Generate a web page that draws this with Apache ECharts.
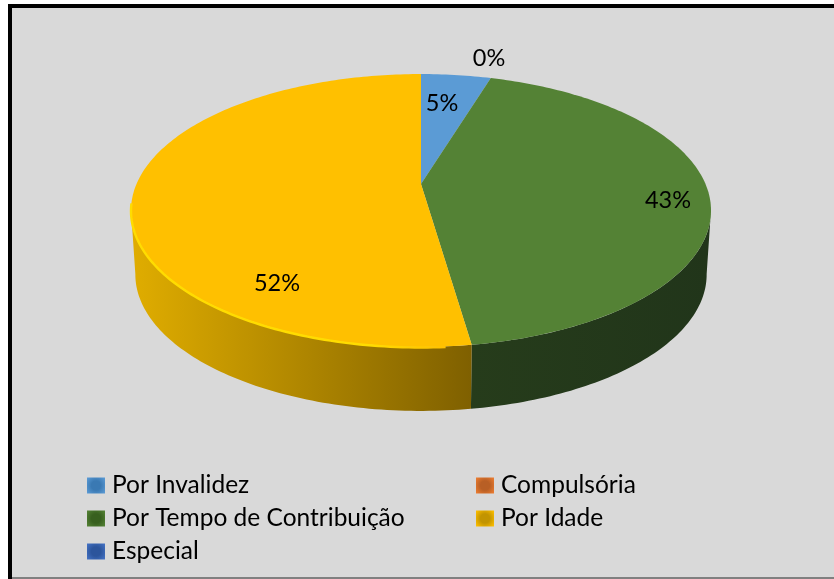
<!DOCTYPE html>
<html><head><meta charset="utf-8">
<style>html,body{margin:0;padding:0;background:#fff}#c{width:834px;height:579px}</style>
<script src="https://cdn.jsdelivr.net/npm/echarts@6/dist/echarts.min.js"></script>
</head><body><div id="c"></div>
<script>
const categories = ['Por Invalidez','Compulsória','Por Tempo de Contribuição','Por Idade','Especial'];
const values = [4.7, 0, 43, 52.3, 0];
const labels = ['5%','0%','43%','52%',null];
const colors = ['#5B9BD5','#ED7D31','#548235','#FFC000','#4472C4'];
const leftLegend = ['Por Invalidez','Por Tempo de Contribuição','Especial'];
const rightLegend = ['Compulsória','Por Idade'];
const labelPos = [[442,103],[489,58],[668,200],[277,283],null];

const sideStops = [null,null,['#263c1b','#21351a'],['#e0ad00','#7f6000'],null];
const swatchCore = ['#3a79b3','#b85f25','#38601f','#c29400','#2c559c'];

const total = values.reduce((a,b)=>a+b,0);
const APEX=[421,184], K=0.194, A=131.3, B=284.5, DEPTH=64, SHRINK=0.985;
function proj(deg){const t=deg*Math.PI/180,X=Math.sin(t),Y=Math.cos(t),w=1+K*Y;
  return [APEX[0]+B*X/w, APEX[1]-A*Y/w];}
function low(p){return [APEX[0]+(p[0]-APEX[0])*SHRINK, p[1]+DEPTH];}
function arc(a,b){const n=Math.max(2,Math.ceil(Math.abs(b-a)));const r=[];
  for(let i=0;i<=n;i++)r.push(proj(a+(b-a)*i/n));return r;}

let acc=0;
const spans=values.map(v=>{const s=acc/total*360;acc+=v;return [s,acc/total*360];});

function renderer(idx){
  return function(params,api){
    const v=api.value(0), kids=[];
    const [a,b]=spans[idx];
    const sa=Math.max(a,101), sb=Math.min(b,259);
    if(v>0 && sb>sa && sideStops[idx]){
      const top=arc(sa,sb), bot=top.map(low).reverse();
      const st=sideStops[idx];
      kids.push({type:'polygon',shape:{points:top.concat(bot)},
        style:{fill:new echarts.graphic.LinearGradient(0,0,1,0,
          [{offset:0,color:st[0]},{offset:1,color:st[1]}])}});
    }
    if(v>0){
      kids.push({type:'polygon',shape:{points:[APEX].concat(arc(a,b))},style:{fill:colors[idx]}});
    }
    if(idx===3){
      kids.push({type:'polyline',shape:{points:arc(Math.max(a,176),Math.min(b,262)).map(p=>[p[0],p[1]+0.6])},
        style:{fill:'none',lineWidth:2.4,stroke:new echarts.graphic.LinearGradient(0,0,1,0,[
          {offset:0,color:'#FFDC00'},{offset:0.75,color:'#FFDC00'},{offset:1,color:colors[3]}])}});
    }
    if(labels[idx]){
      kids.push({type:'text',x:labelPos[idx][0],y:labelPos[idx][1],z2:10,
        style:{text:labels[idx],fill:'#000',font:'23.5px Lato',align:'center',verticalAlign:'middle'}});
    }
    return {type:'group',children:kids};
  };
}
const swatch=i=>({icon:'rect',itemStyle:{color:new echarts.graphic.RadialGradient(0.5,0.5,0.72,[
  {offset:0,color:swatchCore[i]},{offset:0.4,color:swatchCore[i]},{offset:1,color:colors[i]}])}});
const legendData=list=>list.map(n=>Object.assign({name:n},swatch(categories.indexOf(n))));
const legendBase={orient:'vertical',itemWidth:18,itemHeight:16,itemGap:8,padding:0,selectedMode:false,
  textStyle:{fontFamily:'Lato',fontSize:24.5,color:'#000',padding:[0,0,0,2]}};

const chart=echarts.init(document.getElementById('c'),null,{renderer:'canvas'});
chart.setOption({
  animation:false,
  backgroundColor:'#fff',
  graphic:[
    {type:'rect',z:-10,shape:{x:8,y:4,width:826,height:575},style:{fill:'#000'}},
    {type:'rect',z:-9,shape:{x:12,y:8,width:822,height:569},style:{fill:'#D9D9D9'}},
    {type:'rect',z:-9,shape:{x:12,y:577,width:822,height:2},style:{fill:'#808080'}}
  ],
  legend:[
    Object.assign({},legendBase,{left:87,top:473,data:legendData(leftLegend)}),
    Object.assign({},legendBase,{left:476,top:473,data:legendData(rightLegend)})
  ],
  series:categories.map((name,i)=>({
    type:'custom',name,coordinateSystem:'none',data:[[values[i]]],
    renderItem:renderer(i),itemStyle:{color:colors[i]},silent:true,z:2+i
  }))
});
</script></body></html>
